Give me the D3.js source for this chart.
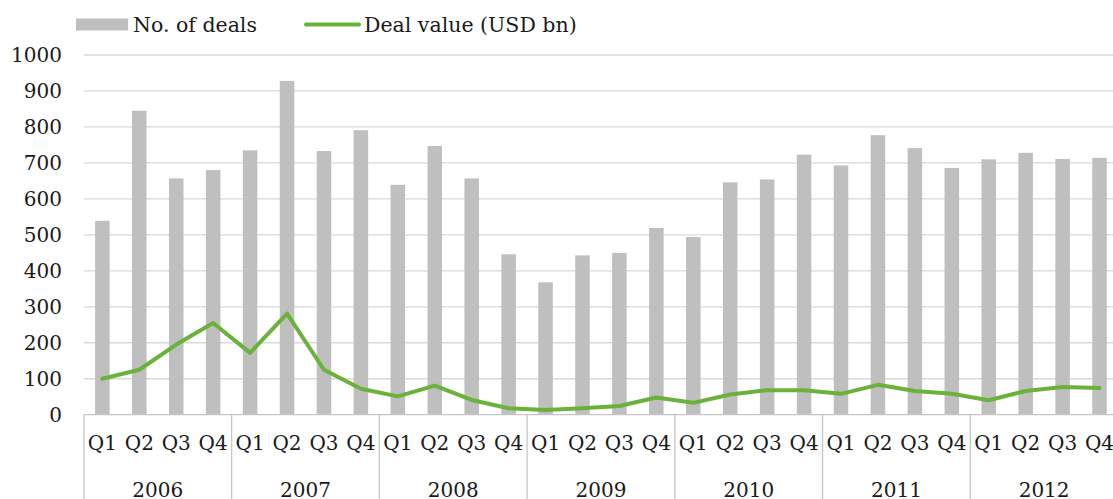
<!DOCTYPE html>
<html lang="en">
<head>
<meta charset="UTF-8">
<title>Deals</title>
<script src="https://cdn.jsdelivr.net/npm/d3@7/dist/d3.min.js"></script>
<style>
    body{margin:0;background:#fff;overflow:hidden;}
    text{font-family:Georgia,"DejaVu Serif",serif;fill:#1a1a1a;}
</style>
</head>
<body>
<svg width="1113" height="499"></svg>
<script>
    // data
    var years = [2006, 2007, 2008, 2009, 2010, 2011, 2012];
    var quarters = ["Q1", "Q2", "Q3", "Q4"];
    var deals = [539, 845, 657, 680,  735, 928, 733, 791,  639, 747, 657, 446,
                 368, 443, 450, 519,  494, 646, 654, 723,  693, 777, 741, 686,
                 710, 728, 711, 714];
    var dealValue = [100, 125, 195, 255,  172, 281, 125, 72,  51, 81, 41, 18,
                     13, 18, 24, 48,  33, 56, 68, 68,  58, 83, 66, 58,
                     40, 66, 77, 74];
    var yTicks = [0, 100, 200, 300, 400, 500, 600, 700, 800, 900, 1000];

    var rows = [];
    years.forEach(function (yr) {
        quarters.forEach(function (q) {
            rows.push({key: yr + " " + q, year: yr, q: q});
        });
    });
    rows.forEach(function (d, i) {
        d.deals = deals[i];
        d.value = dealValue[i];
    });

    var svg = d3.select("svg");
    var plotLeft = 83.9, plotRight = 1118, plotTop = 55, plotBottom = 414.7;

    var x = d3.scaleBand()
        .domain(rows.map(function (d) { return d.key; }))
        .range([plotLeft, plotRight])
        .paddingInner(0.607)
        .paddingOuter(0.3035);
    var step = x.step();

    var y = d3.scaleLinear().domain([0, 1000]).range([plotBottom, plotTop]);

    // grid
    svg.append("g")
        .selectAll("line")
        .data(yTicks.slice(1))
        .enter()
        .append("line")
        .attr("x1", plotLeft).attr("x2", plotRight)
        .attr("y1", function (d) { return y(d); })
        .attr("y2", function (d) { return y(d); })
        .style("stroke", "#d9d9d9")
        .style("stroke-width", 1.3);

    // y labels
    svg.append("g")
        .selectAll("text")
        .data(yTicks)
        .enter()
        .append("text")
        .attr("x", 62)
        .attr("y", function (d) { return y(d) + 7; })
        .attr("text-anchor", "end")
        .style("font-size", "20px")
        .text(function (d) { return d; });

    // bars
    svg.append("g")
        .selectAll("rect")
        .data(rows)
        .enter()
        .append("rect")
        .attr("x", function (d) { return x(d.key); })
        .attr("y", function (d) { return y(d.deals); })
        .attr("width", x.bandwidth())
        .attr("height", function (d) { return y(0) - y(d.deals); })
        .attr("fill", "#bfbfbf");

    // x axis
    var axis = svg.append("g");
    axis.append("line")
        .attr("x1", plotLeft).attr("x2", plotRight)
        .attr("y1", plotBottom).attr("y2", plotBottom)
        .style("stroke", "#c6c6c6")
        .style("stroke-width", 1.3);
    axis.selectAll("line.sep")
        .data(d3.range(years.length + 1))
        .enter()
        .append("line")
        .attr("class", "sep")
        .attr("x1", function (i) { return plotLeft + i * 4 * step; })
        .attr("x2", function (i) { return plotLeft + i * 4 * step; })
        .attr("y1", plotBottom).attr("y2", 510)
        .style("stroke", "#c6c6c6")
        .style("stroke-width", 1.3);
    axis.selectAll("text.q")
        .data(rows)
        .enter()
        .append("text")
        .attr("class", "q")
        .attr("x", function (d) { return x(d.key) + x.bandwidth() / 2; })
        .attr("y", 450)
        .attr("text-anchor", "middle")
        .style("font-size", "20px")
        .text(function (d) { return d.q; });
    axis.selectAll("text.yr")
        .data(years)
        .enter()
        .append("text")
        .attr("class", "yr")
        .attr("x", function (d, i) { return plotLeft + (i + 0.5) * 4 * step; })
        .attr("y", 497)
        .attr("text-anchor", "middle")
        .style("font-size", "20px")
        .text(function (d) { return d; });

    // line
    var line = d3.line()
        .x(function (d) { return x(d.key) + x.bandwidth() / 2; })
        .y(function (d) { return y(d.value); });
    svg.append("path")
        .datum(rows)
        .attr("d", line)
        .attr("fill", "none")
        .style("stroke", "#6ab23a")
        .style("stroke-width", 4)
        .style("stroke-linejoin", "round")
        .style("stroke-linecap", "round");

    // legend
    var legend = svg.append("g");
    legend.append("rect")
        .attr("x", 76).attr("y", 18.5)
        .attr("width", 52).attr("height", 12)
        .attr("fill", "#bfbfbf");
    legend.append("text")
        .attr("x", 133).attr("y", 31.5)
        .style("font-size", "20.5px")
        .text("No. of deals");
    legend.append("line")
        .attr("x1", 306).attr("x2", 359)
        .attr("y1", 24.5).attr("y2", 24.5)
        .style("stroke", "#6ab23a")
        .style("stroke-width", 4)
        .style("stroke-linecap", "round");
    legend.append("text")
        .attr("x", 364).attr("y", 31.5)
        .style("font-size", "20.5px")
        .text("Deal value (USD bn)");
</script>
</body>
</html>
